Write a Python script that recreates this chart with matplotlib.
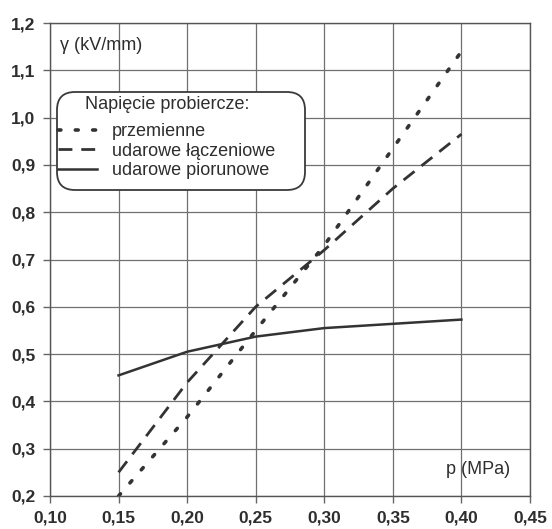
import matplotlib
matplotlib.use("Agg")
import matplotlib.pyplot as plt
from matplotlib.ticker import FuncFormatter
from matplotlib.patches import FancyBboxPatch
from matplotlib.transforms import IdentityTransform

plt.rcParams['font.family'] = ['Liberation Sans', 'DejaVu Sans']

# data
p = [0.15, 0.20, 0.25, 0.30, 0.35, 0.40]
przemienne = [0.20, 0.367, 0.55, 0.73, 0.935, 1.14]
laczeniowe = [0.25, 0.44, 0.60, 0.72, 0.85, 0.965]
piorunowe = [0.455, 0.505, 0.537, 0.555, 0.564, 0.573]

labels = ["przemienne", "udarowe łączeniowe", "udarowe piorunowe"]
legend_title = "Napięcie probiercze:"
xticks = [0.10, 0.15, 0.20, 0.25, 0.30, 0.35, 0.40, 0.45]
yticks = [0.2, 0.3, 0.4, 0.5, 0.6, 0.7, 0.8, 0.9, 1.0, 1.1, 1.2]

ink = '#333333'
txt = '#2e2e2e'
W, H = 552, 529
fig = plt.figure(figsize=(W / 100, H / 100), dpi=100)
ax = fig.add_axes([50/W, 33/H, 480/W, 473/H])

ax.plot(p, przemienne, color=ink, lw=2.6, linestyle=(0, (0.8, 4.0)),
        dash_capstyle='round', label=labels[0])
ax.plot(p, laczeniowe, color=ink, lw=2.0, linestyle=(0, (5, 3.2)),
        label=labels[1])
ax.plot(p, piorunowe, color=ink, lw=1.8, label=labels[2])

ax.set_xlim(0.10, 0.45)
ax.set_ylim(0.2, 1.2)
ax.set_xticks(xticks)
ax.set_yticks(yticks)
ax.xaxis.set_major_formatter(FuncFormatter(lambda v, _: f"{v:.2f}".replace('.', ',')))
ax.yaxis.set_major_formatter(FuncFormatter(lambda v, _: f"{v:.1f}".replace('.', ',')))
ax.grid(True, color='#707070', lw=0.9)
ax.set_axisbelow(True)
for s in ax.spines.values():
    s.set_color('#555555')
    s.set_linewidth(1.0)
ax.tick_params(axis='both', colors='#666666', labelcolor=txt,
               labelsize=12.5, length=5, width=1.0, direction='out', pad=5.5)
for lbl in ax.get_xticklabels() + ax.get_yticklabels():
    lbl.set_fontweight('bold')

ax.text(0.021, 0.953, "γ (kV/mm)", transform=ax.transAxes, fontsize=13,
        color=txt, va='center', ha='left')
ax.text(0.892, 0.055, "p (MPa)", transform=ax.transAxes, fontsize=13,
        color=txt, va='center', ha='center')

# rounded legend frame (pixel coordinates, origin bottom-left)
frame = FancyBboxPatch((57, H - 190), 248, 98,
                       boxstyle="round,pad=0,rounding_size=18",
                       transform=IdentityTransform(), facecolor='white',
                       edgecolor='#3a3a3a', linewidth=1.3, zorder=4.5)
ax.add_artist(frame)

leg = ax.legend(title=legend_title, loc='upper left',
                bbox_to_anchor=((58 - 50) / 480, (496 - 96) / 473),
                fontsize=13, title_fontsize=13, frameon=False,
                handlelength=2.15, handletextpad=0.85, labelspacing=0.15,
                borderpad=0.0, borderaxespad=0.0)
leg.set_zorder(5)
leg._legend_box.sep = 7.2
for t in leg.get_texts():
    t.set_color(txt)
leg.get_title().set_color(txt)

fig.savefig("out.png", dpi=100)
